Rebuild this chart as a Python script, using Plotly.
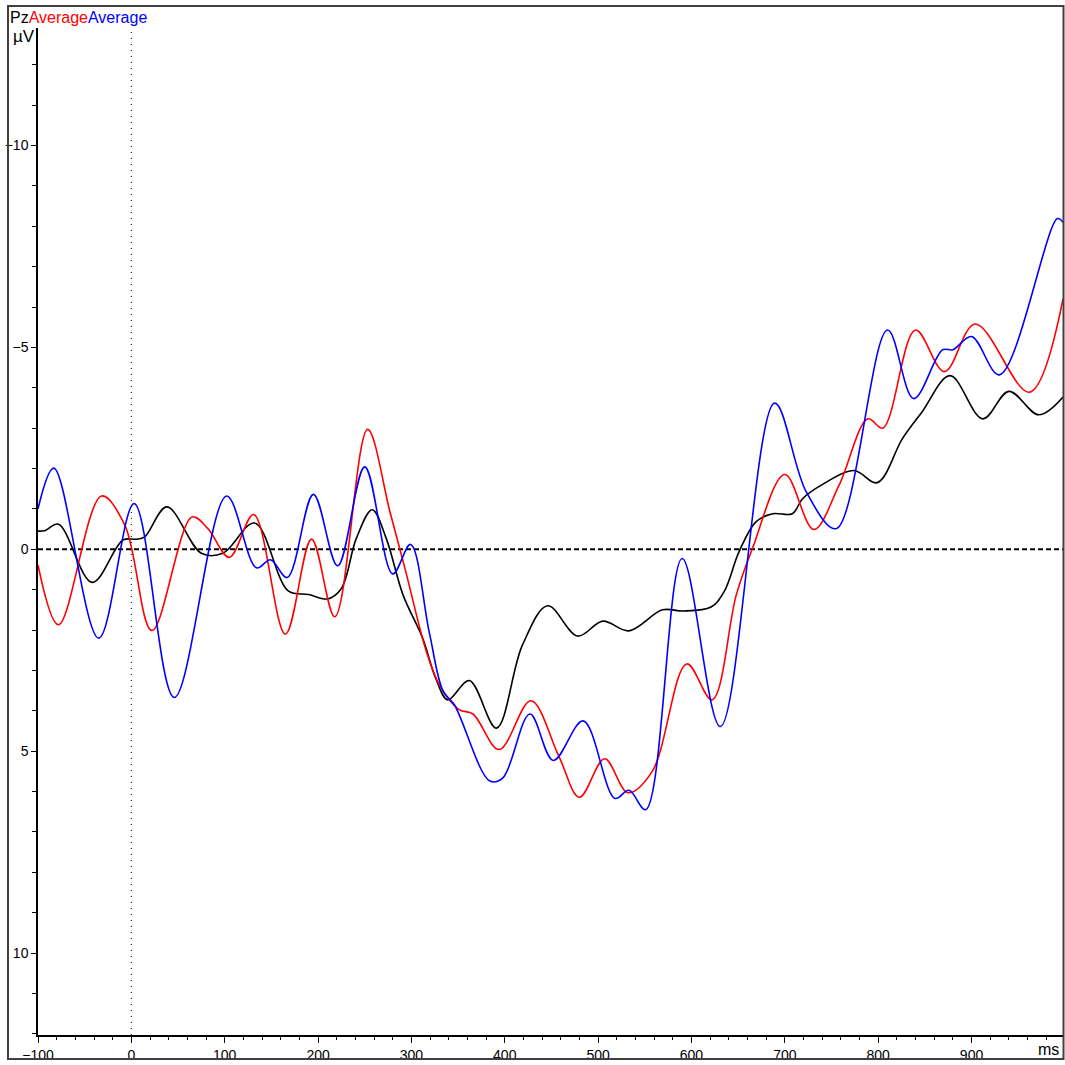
import plotly.graph_objects as go

# ---- data ----
black_ms = [-100, -93, -78, -42, -9, 5, 14, 38, 75, 98, 132, 168, 190, 210, 225, 241, 258, 273,
            291, 312, 326, 339, 362, 391, 419, 446, 478, 505, 533, 569, 591, 621, 635, 651, 669,
            687, 708, 719, 740, 774, 799, 826, 847, 877, 912, 940, 972, 998]
black_uv = [-0.45, -0.46, -0.62, 0.82, -0.23, -0.25, -0.3, -1.05, 0.10, 0.10, -0.65, 1.03, 1.12,
            1.23, 0.97, -0.27, -0.98, -0.27, 1.13, 2.2, 3.19, 3.73, 3.25, 4.43, 2.37, 1.40, 2.15,
            1.78, 2.02, 1.50, 1.53, 1.43, 1.05, 0.06, -0.68, -0.88, -0.88, -1.25, -1.6, -1.95,
            -1.65, -2.74, -3.40, -4.30, -3.23, -3.91, -3.33, -3.77]

red_ms = [-100, -78, -32, -7, 22, 65, 82, 105, 131, 165, 193, 218, 253, 277, 294, 316, 330, 351,
          366, 394, 428, 458, 480, 507, 532, 558, 595, 622, 648, 665, 700, 731, 758, 789, 805,
          840, 871, 904, 962, 998]
red_uv = [0.39, 1.87, -1.32, -0.6, 2.01, -0.8, -0.51, 0.20, -0.86, 2.10, -0.25, 1.67, -2.97,
          -0.93, 0.56, 2.53, 3.36, 3.97, 4.08, 4.96, 3.75, 5.13, 6.14, 5.19, 6.03, 5.5, 2.84,
          3.73, 1.13, 0.0, -1.85, -0.49, -1.58, -3.23, -3.0, -5.43, -4.4, -5.58, -3.89, -6.2]

blue_ms = [-100, -83, -35, 3, 46, 102, 134, 149, 167, 195, 221, 250, 280, 299, 319, 334, 346,
           384, 398, 427, 452, 484, 518, 533, 551, 590, 631, 689, 723, 755, 810, 838, 869, 880,
           900, 930, 992, 998]
blue_uv = [-1.0, -2.01, 2.2, -1.13, 3.67, -1.32, 0.46, 0.26, 0.70, -1.36, 0.41, -2.04, 0.61,
           -0.12, 2.04, 3.52, 3.85, 5.74, 5.66, 4.08, 5.23, 4.25, 6.17, 5.97, 6.45, 0.23, 4.39,
           -3.62, -1.42, -0.51, -5.43, -3.73, -4.94, -4.94, -5.27, -4.32, -8.19, -8.1]

x_tickvals = [-100, 0, 100, 200, 300, 400, 500, 600, 700, 800, 900]
y_tickvals = [-10, -5, 0, 5, 10]
x_range = [-100, 998]
y_range = [12.03, -12.91]

FONT = "Liberation Sans, Arial, sans-serif"

L, R, T, B = 38, 2, 28, 27
W = 1065 - L - R
H = 1065 - T - B


def px2x(px):
    return (px - L) / W


def py2y(py):
    return (1065 - B - py) / H


fig = go.Figure()
for xs, ys, col in [(black_ms, black_uv, "#000000"),
                    (red_ms, red_uv, "#ff0000"),
                    (blue_ms, blue_uv, "#0000ff")]:
    fig.add_trace(go.Scatter(x=xs, y=ys, mode="lines",
                             line=dict(color=col, width=1.6, shape="spline", smoothing=1.0),
                             showlegend=False, hoverinfo="skip"))

fig.update_layout(
    width=1065, height=1065,
    margin=dict(l=L, r=R, t=T, b=B),
    paper_bgcolor="white", plot_bgcolor="white",
    font=dict(family=FONT, size=14, color="black"),
    title=dict(
        text="Pz<span style='color:#ff0000'>Average</span><span style='color:#0000ff'>Average</span>",
        x=10 / 1065, xanchor="left", y=1 - 17 / 1065, yanchor="middle",
        font=dict(family=FONT, size=16, color="black")),
    xaxis=dict(range=x_range, tickmode="array", tickvals=x_tickvals,
               ticks="outside", ticklen=6, tickwidth=1, tickcolor="black",
               showline=True, linecolor="black", linewidth=1.5,
               showgrid=False, zeroline=False,
               minor=dict(dtick=20, tick0=0, ticks="outside", ticklen=3, tickcolor="black",
                          showgrid=False),
               tickfont=dict(family=FONT, size=14)),
    yaxis=dict(range=y_range, tickmode="array", tickvals=y_tickvals,
               ticks="outside", ticklen=5, tickwidth=1, tickcolor="black",
               showline=True, linecolor="black", linewidth=1.5,
               showgrid=False, zeroline=False,
               minor=dict(dtick=1, tick0=0, ticks="outside", ticklen=4, tickcolor="black",
                          showgrid=False),
               tickfont=dict(family=FONT, size=14)),
    annotations=[
        dict(text="µV", xref="paper", yref="paper", x=px2x(11), y=py2y(37),
             xanchor="left", yanchor="middle", showarrow=False,
             font=dict(family=FONT, size=17, color="black")),
        dict(text="ms", xref="paper", yref="paper", x=px2x(1061), y=py2y(1053),
             xanchor="right", yanchor="middle", showarrow=False,
             font=dict(family=FONT, size=16, color="black")),
    ],
)

# reference lines and outer frame
fig.add_hline(y=0, line=dict(color="black", width=2, dash="5px,3px"), layer="below")
fig.add_vline(x=0, line=dict(color="black", width=1, dash="1px,5px"), layer="below")
fig.add_shape(type="rect", xref="paper", yref="paper",
              x0=px2x(8), x1=px2x(1063.5), y0=py2y(1062), y1=py2y(6),
              line=dict(color="#404040", width=2), fillcolor="rgba(0,0,0,0)",
              layer="above")

fig.write_html("out.html")
